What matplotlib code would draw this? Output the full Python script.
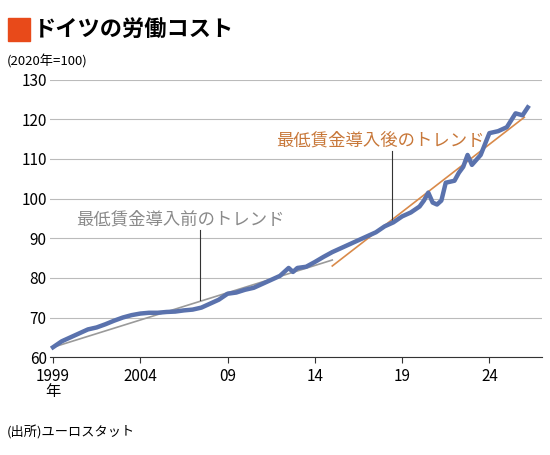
import matplotlib
matplotlib.use("Agg")
import matplotlib.pyplot as plt
import numpy as np

plt.rcParams['font.family'] = ['Noto Sans CJK JP', 'DejaVu Sans']

years = [1999.0,1999.5,2000.0,2000.5,2001.0,2001.5,2002.0,2002.5,2003.0,2003.5,2004.0,2004.5,
         2005.0,2005.5,2006.0,2006.5,2007.0,2007.5,2008.0,2008.5,2009.0,2009.5,2010.0,2010.5,
         2011.0,2011.5,2012.0,2012.5,2012.75,2013.0,2013.5,2014.0,2014.5,2015.0,2015.5,2016.0,
         2016.5,2017.0,2017.5,2018.0,2018.5,2019.0,2019.5,2020.0,2020.25,2020.5,2020.75,2021.0,
         2021.25,2021.5,2022.0,2022.25,2022.5,2022.75,2023.0,2023.5,2024.0,2024.5,2025.0,
         2025.5,2025.9,2026.2]
cost = [62.5,64.0,65.0,66.0,67.0,67.5,68.3,69.2,70.0,70.6,71.0,71.2,
        71.2,71.4,71.5,71.8,72.0,72.5,73.5,74.5,76.0,76.3,77.0,77.5,
        78.5,79.5,80.5,82.5,81.5,82.5,82.8,84.0,85.3,86.5,87.5,88.5,
        89.5,90.5,91.5,93.0,94.0,95.5,96.5,98.0,99.5,101.5,99.0,98.5,
        99.5,104.0,104.5,106.5,108.0,111.0,108.5,111.0,116.5,117.0,118.0,
        121.5,121.0,123.0]

pre_trend_x = [1999.0, 2015.0]
pre_trend_y = [62.5, 84.5]
post_trend_x = [2015.0, 2026.0]
post_trend_y = [83.0, 120.5]

fig = plt.figure(figsize=(5.5, 4.55), dpi=100)
ax = fig.add_axes([0.09, 0.215, 0.895, 0.61])

ax.plot(pre_trend_x, pre_trend_y, color='#9a9a9a', lw=1.2, zorder=2)
ax.plot(post_trend_x, post_trend_y, color='#d98a4a', lw=1.2, zorder=2)
ax.plot(years, cost, color='#5a72ad', lw=3.2, zorder=3, solid_joinstyle='round')

ax.plot([2007.4, 2007.4], [74.5, 92.0], color='#333', lw=0.8)
ax.text(2000.3, 93.5, '最低賃金導入前のトレンド', color='#8a8a8a', fontsize=12.5)
ax.plot([2018.4, 2018.4], [94.0, 112.0], color='#333', lw=0.8)
ax.text(2011.8, 113.5, '最低賃金導入後のトレンド', color='#c8783a', fontsize=12.5)

ax.set_xlim(1998.8, 2027)
ax.set_ylim(60, 130)
ax.set_yticks(range(60, 131, 10))
ax.set_xticks([1999, 2004, 2009, 2014, 2019, 2024])
ax.set_xticklabels(['1999\n年', '2004', '09', '14', '19', '24'], fontsize=11, va='top')
ax.tick_params(axis='y', labelsize=11, length=0, pad=2)
ax.tick_params(axis='x', length=4, color='#333')
for lab in ax.get_xticklabels():
    lab.set_linespacing(0.9)
ax.grid(axis='y', color='#bbbbbb', lw=0.8)
ax.set_axisbelow(True)
for s in ['top', 'right', 'left']:
    ax.spines[s].set_visible(False)
ax.spines['bottom'].set_color('#333')

fig.patches.append(plt.Rectangle((0.015, 0.91), 0.04, 0.05, color='#e84a1a', transform=fig.transFigure))
fig.text(0.062, 0.935, 'ドイツの労働コスト', fontsize=16, fontweight='bold', va='center')
fig.text(0.012, 0.865, '(2020年=100)', fontsize=9.5, va='center')
fig.text(0.012, 0.05, '(出所)ユーロスタット', fontsize=9.5, va='center')

fig.savefig('out.png', dpi=100, facecolor='white')
